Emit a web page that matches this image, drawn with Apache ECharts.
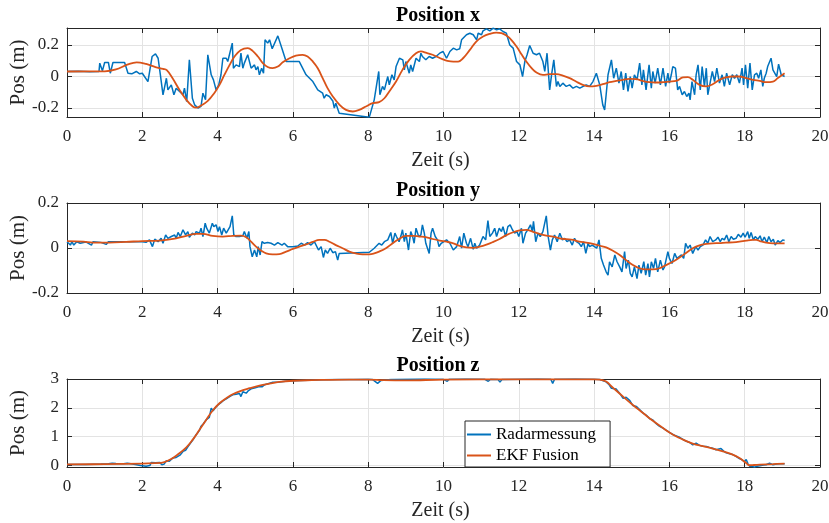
<!DOCTYPE html>
<html>
<head>
<meta charset="utf-8">
<script src="https://cdn.jsdelivr.net/npm/echarts@6/dist/echarts.min.js"></script>
<style>html,body{margin:0;padding:0;background:#fff}#c{width:829px;height:523px}</style>
</head>
<body>
<div id="c"></div>
<script>
// ---- data: [time (s), position (m)] ----
const radarX = [[0,0.032],[0.3,0.033],[0.6,0.031],[0.85,0.032],[0.87,0.085],[0.94,0.036],[1.0,0.089],[1.1,0.089],[1.15,0.021],[1.22,0.089],[1.53,0.089],[1.62,0.021],[1.72,0.017],[1.84,0.032],[1.93,0.017],[2.0,0.021],[2.15,-0.032],[2.26,0.127],[2.35,0.144],[2.42,0.116],[2.48,0.011],[2.55,-0.116],[2.64,-0.011],[2.68,-0.085],[2.77,-0.053],[2.84,-0.116],[2.90,-0.074],[2.99,-0.095],[3.08,-0.116],[3.12,-0.074],[3.18,-0.159],[3.25,0.106],[3.33,-0.138],[3.39,-0.18],[3.48,-0.2],[3.56,-0.19],[3.61,-0.106],[3.68,-0.148],[3.74,0.138],[3.83,0.011],[3.89,-0.021],[3.96,-0.085],[4.03,-0.053],[4.09,0.011],[4.14,0.116],[4.23,0.116],[4.27,0.095],[4.39,0.212],[4.42,0.053],[4.49,0.074],[4.58,0.063],[4.62,0.148],[4.67,0.053],[4.71,0.085],[4.80,0.138],[4.89,0.053],[4.98,0.074],[5.02,0.042],[5.07,0.063],[5.11,0.011],[5.17,0.053],[5.22,0.021],[5.26,0.233],[5.33,0.212],[5.38,0.233],[5.45,0.176],[5.6,0.258],[5.72,0.17],[5.82,0.095],[6.17,0.095],[6.35,0.011],[6.53,-0.032],[6.66,-0.085],[6.79,-0.106],[6.83,-0.138],[6.88,-0.116],[6.97,-0.127],[7.06,-0.155],[7.10,-0.2],[7.14,-0.169],[7.23,-0.233],[8.03,-0.258],[8.16,-0.148],[8.28,0.032],[8.31,-0.116],[8.38,-0.063],[8.43,-0.085],[8.52,0.0],[8.56,-0.053],[8.63,0.011],[8.69,-0.021],[8.74,0.063],[8.83,0.116],[8.92,0.106],[8.96,0.042],[9.00,0.095],[9.09,0.021],[9.13,0.074],[9.18,0.032],[9.27,0.116],[9.36,0.095],[9.40,0.148],[9.44,0.127],[9.53,0.106],[9.62,0.127],[9.71,0.116],[9.80,0.127],[9.90,0.148],[9.99,0.159],[10.08,0.116],[10.17,0.159],[10.26,0.18],[10.35,0.169],[10.43,0.176],[10.48,0.233],[10.52,0.243],[10.61,0.265],[10.70,0.275],[10.79,0.265],[10.88,0.233],[10.92,0.275],[11.01,0.265],[11.05,0.29],[11.14,0.303],[11.23,0.29],[11.32,0.307],[11.41,0.296],[11.49,0.303],[11.58,0.286],[11.67,0.275],[11.76,0.2],[11.85,0.18],[11.94,0.095],[12.03,0.074],[12.10,0.0],[12.16,0.095],[12.22,0.138],[12.29,0.197],[12.38,0.148],[12.47,0.138],[12.55,0.148],[12.64,0.095],[12.69,0.032],[12.75,0.148],[12.82,-0.085],[12.87,0.011],[12.93,0.106],[13.0,-0.063],[13.04,-0.032],[13.09,-0.063],[13.17,-0.042],[13.26,-0.063],[13.35,-0.053],[13.44,-0.074],[13.53,-0.063],[13.62,-0.074],[13.71,-0.063],[13.79,-0.053],[13.88,-0.063],[13.97,-0.032],[14.06,0.021],[14.10,0.011],[14.15,-0.053],[14.19,-0.116],[14.23,-0.18],[14.28,-0.212],[14.32,-0.116],[14.37,0.011],[14.46,0.106],[14.52,-0.011],[14.59,0.053],[14.66,-0.042],[14.72,0.032],[14.78,-0.085],[14.84,0.021],[14.90,-0.095],[14.96,0.0],[15.01,-0.074],[15.07,0.011],[15.14,-0.021],[15.21,0.085],[15.27,-0.053],[15.31,0.042],[15.38,-0.085],[15.46,0.074],[15.52,-0.074],[15.56,0.032],[15.62,-0.042],[15.69,0.053],[15.76,-0.053],[15.83,0.053],[15.90,-0.063],[15.96,0.021],[16.0,-0.042],[16.05,0.011],[16.09,0.063],[16.16,0.053],[16.22,-0.085],[16.27,-0.063],[16.34,-0.116],[16.40,-0.095],[16.46,-0.127],[16.52,-0.106],[16.55,-0.148],[16.60,-0.032],[16.67,-0.116],[16.71,0.011],[16.76,0.074],[16.82,-0.085],[16.87,0.063],[16.93,-0.063],[16.98,0.053],[17.02,-0.116],[17.08,-0.042],[17.14,0.032],[17.20,-0.032],[17.26,0.053],[17.33,-0.042],[17.40,0.011],[17.46,-0.063],[17.52,0.021],[17.60,-0.053],[17.67,0.011],[17.73,-0.011],[17.79,0.011],[17.86,-0.042],[17.93,0.053],[17.97,-0.053],[18.02,0.074],[18.08,-0.074],[18.14,0.085],[18.20,-0.085],[18.26,0.011],[18.32,0.021],[18.37,-0.011],[18.43,0.042],[18.48,-0.063],[18.52,-0.011],[18.57,0.021],[18.61,0.063],[18.66,0.053],[18.70,0.116],[18.75,0.042],[18.79,0.053],[18.85,0.0],[18.90,0.078],[18.97,0.011],[19.01,0.021],[19.06,0.0]];
const ekfX = [[0,0.032],[1.0,0.033],[1.3,0.045],[1.6,0.075],[1.85,0.09],[2.1,0.08],[2.35,0.06],[2.55,0.048],[2.65,0.04],[2.8,-0.01],[2.99,-0.085],[3.17,-0.148],[3.34,-0.19],[3.43,-0.197],[3.56,-0.184],[3.74,-0.155],[3.91,-0.106],[4.05,-0.053],[4.18,0.01],[4.32,0.074],[4.45,0.127],[4.62,0.169],[4.8,0.18],[4.93,0.163],[5.07,0.127],[5.2,0.085],[5.33,0.06],[5.46,0.053],[5.6,0.063],[5.73,0.09],[5.91,0.116],[6.08,0.133],[6.26,0.138],[6.39,0.127],[6.53,0.095],[6.66,0.053],[6.79,-0.01],[6.92,-0.074],[7.06,-0.127],[7.24,-0.18],[7.41,-0.212],[7.59,-0.222],[7.76,-0.212],[7.94,-0.19],[8.12,-0.169],[8.29,-0.163],[8.43,-0.138],[8.56,-0.095],[8.74,-0.032],[8.91,0.042],[9.09,0.106],[9.27,0.148],[9.4,0.159],[9.55,0.15],[9.71,0.138],[9.97,0.11],[10.1,0.1],[10.26,0.095],[10.39,0.095],[10.52,0.116],[10.7,0.169],[10.87,0.222],[11.05,0.254],[11.23,0.271],[11.4,0.279],[11.54,0.275],[11.67,0.26],[11.8,0.233],[11.94,0.19],[12.07,0.142],[12.2,0.095],[12.34,0.053],[12.47,0.025],[12.64,0.01],[12.82,0.015],[13.0,0.015],[13.17,0.006],[13.35,-0.01],[13.52,-0.032],[13.7,-0.053],[13.88,-0.063],[14.06,-0.059],[14.23,-0.049],[14.41,-0.036],[14.59,-0.028],[14.76,-0.021],[14.94,-0.015],[15.12,-0.017],[15.29,-0.028],[15.47,-0.036],[15.65,-0.038],[15.83,-0.036],[16.0,-0.032],[16.18,-0.028],[16.36,-0.006],[16.49,-0.004],[16.62,-0.021],[16.8,-0.053],[16.97,-0.063],[17.15,-0.049],[17.33,-0.021],[17.5,-0.006],[17.68,0.0],[17.86,0.0],[18.04,-0.01],[18.22,-0.021],[18.4,-0.028],[18.57,-0.036],[18.75,-0.032],[18.88,-0.01],[19.06,0.021]];

const radarY = [[0,0.028],[0.09,0.013],[0.13,0.028],[0.18,0.013],[0.26,0.028],[0.35,0.021],[0.5,0.027],[0.65,0.013],[0.69,0.028],[0.9,0.025],[1.04,0.016],[1.1,0.028],[1.5,0.028],[2.0,0.028],[2.1,0.025],[2.19,0.036],[2.27,0.006],[2.33,0.039],[2.42,0.028],[2.5,0.043],[2.55,0.021],[2.62,0.058],[2.68,0.043],[2.77,0.051],[2.86,0.058],[2.90,0.043],[2.95,0.069],[3.01,0.051],[3.08,0.081],[3.15,0.058],[3.21,0.073],[3.25,0.048],[3.33,0.066],[3.39,0.058],[3.43,0.073],[3.52,0.066],[3.56,0.088],[3.61,0.051],[3.67,0.11],[3.71,0.088],[3.78,0.066],[3.86,0.11],[3.90,0.095],[3.96,0.103],[4.01,0.073],[4.05,0.095],[4.11,0.058],[4.16,0.088],[4.23,0.066],[4.27,0.066],[4.33,0.095],[4.39,0.143],[4.43,0.058],[4.49,0.051],[4.58,0.051],[4.67,0.054],[4.71,0.073],[4.78,0.043],[4.83,0.073],[4.86,0.006],[4.92,-0.039],[4.98,-0.009],[5.04,-0.039],[5.08,0.006],[5.13,-0.031],[5.18,0.028],[5.24,0.021],[5.33,0.024],[5.42,0.021],[5.51,0.013],[5.6,0.024],[5.64,0.028],[5.71,0.013],[5.77,0.021],[5.86,0.006],[6.0,0.006],[6.13,0.009],[6.22,0.021],[6.31,0.013],[6.39,0.024],[6.48,0.013],[6.57,0.028],[6.61,0.021],[6.68,-0.009],[6.75,0.006],[6.81,-0.042],[6.86,-0.009],[6.92,-0.024],[6.99,-0.001],[7.06,-0.021],[7.13,-0.016],[7.19,-0.054],[7.23,-0.024],[8.03,-0.019],[8.16,-0.001],[8.29,0.021],[8.36,0.013],[8.43,0.028],[8.52,0.036],[8.6,0.069],[8.65,0.021],[8.71,0.066],[8.75,0.051],[8.82,0.028],[8.87,0.054],[8.91,0.081],[8.96,0.028],[9.0,0.066],[9.07,-0.009],[9.13,0.073],[9.18,0.051],[9.22,0.021],[9.27,0.088],[9.34,0.051],[9.40,0.058],[9.44,0.103],[9.49,0.066],[9.53,0.021],[9.62,-0.024],[9.67,0.066],[9.71,0.088],[9.78,0.051],[9.84,0.036],[9.88,0.006],[9.94,0.021],[9.99,0.021],[10.08,0.036],[10.17,0.021],[10.26,-0.009],[10.35,0.006],[10.43,0.051],[10.48,-0.001],[10.54,0.066],[10.61,0.021],[10.65,0.006],[10.72,0.043],[10.79,-0.006],[10.83,0.021],[10.88,-0.001],[10.96,0.013],[11.05,0.051],[11.12,0.036],[11.18,0.122],[11.23,0.051],[11.30,0.066],[11.36,0.088],[11.41,0.051],[11.48,0.088],[11.54,0.073],[11.58,0.095],[11.65,0.051],[11.71,0.095],[11.77,0.103],[11.83,0.081],[11.89,0.066],[11.95,0.073],[12.0,0.051],[12.07,0.088],[12.11,0.021],[12.18,0.066],[12.24,0.081],[12.31,0.103],[12.36,0.073],[12.39,0.118],[12.45,0.028],[12.51,0.066],[12.57,0.051],[12.64,0.073],[12.73,0.143],[12.78,0.051],[12.84,-0.009],[12.89,0.036],[12.95,0.058],[13.02,0.028],[13.09,0.066],[13.16,0.036],[13.22,0.043],[13.28,0.028],[13.35,0.036],[13.42,0.013],[13.48,0.043],[13.53,0.028],[13.60,0.021],[13.66,0.006],[13.72,0.028],[13.78,-0.024],[13.84,0.021],[13.88,0.006],[13.95,0.013],[14.01,0.006],[14.07,-0.001],[14.13,0.036],[14.19,-0.046],[14.25,-0.076],[14.32,-0.106],[14.37,-0.121],[14.41,-0.061],[14.48,-0.084],[14.55,-0.031],[14.61,-0.061],[14.68,-0.084],[14.74,-0.106],[14.81,-0.016],[14.85,-0.091],[14.91,-0.054],[14.96,-0.113],[15.01,-0.128],[15.07,-0.084],[15.14,-0.136],[15.19,-0.076],[15.25,-0.113],[15.32,-0.061],[15.37,-0.121],[15.43,-0.069],[15.47,-0.128],[15.52,-0.061],[15.58,-0.091],[15.63,-0.046],[15.69,-0.106],[15.76,-0.054],[15.83,-0.098],[15.87,-0.084],[15.92,-0.091],[15.96,-0.016],[16.0,-0.046],[16.07,-0.069],[16.14,-0.024],[16.20,-0.046],[16.25,-0.054],[16.32,-0.031],[16.38,-0.046],[16.43,0.021],[16.49,-0.001],[16.55,0.013],[16.62,-0.024],[16.70,0.006],[16.76,-0.009],[16.82,0.006],[16.89,0.013],[16.96,0.036],[17.02,0.021],[17.08,0.051],[17.15,0.028],[17.23,0.036],[17.29,0.048],[17.35,0.028],[17.40,0.043],[17.46,0.036],[17.52,0.058],[17.58,0.028],[17.64,0.051],[17.70,0.039],[17.77,0.043],[17.83,0.061],[17.90,0.048],[17.96,0.066],[18.01,0.048],[18.08,0.073],[18.12,0.043],[18.17,0.069],[18.23,0.036],[18.28,0.051],[18.35,0.039],[18.41,0.054],[18.46,0.028],[18.52,0.048],[18.59,0.024],[18.64,0.051],[18.70,0.028],[18.76,0.039],[18.81,0.013],[18.88,0.033],[18.94,0.024],[19.01,0.036],[19.06,0.033]];
const ekfY = [[0,0.031],[0.44,0.028],[0.69,0.024],[1.13,0.024],[1.57,0.027],[2.0,0.031],[2.46,0.033],[2.9,0.043],[3.17,0.054],[3.43,0.063],[3.61,0.063],[3.87,0.054],[4.14,0.051],[4.4,0.054],[4.62,0.055],[4.76,0.048],[4.89,0.028],[5.02,0.006],[5.16,-0.012],[5.29,-0.024],[5.46,-0.028],[5.64,-0.027],[5.82,-0.016],[6.0,-0.004],[6.17,0.006],[6.35,0.016],[6.53,0.027],[6.7,0.036],[6.84,0.036],[6.97,0.028],[7.14,0.013],[7.32,-0.001],[7.5,-0.016],[7.67,-0.024],[7.85,-0.028],[8.03,-0.028],[8.16,-0.024],[8.29,-0.016],[8.47,-0.001],[8.65,0.021],[8.82,0.04],[9.0,0.054],[9.18,0.054],[9.36,0.051],[9.53,0.048],[9.71,0.04],[9.9,0.033],[10.08,0.028],[10.26,0.021],[10.43,0.009],[10.61,0.003],[10.79,0.001],[10.96,0.006],[11.14,0.015],[11.32,0.027],[11.49,0.04],[11.67,0.057],[11.85,0.07],[12.02,0.078],[12.2,0.081],[12.38,0.072],[12.55,0.063],[12.73,0.055],[12.91,0.051],[13.08,0.043],[13.26,0.039],[13.44,0.036],[13.61,0.028],[13.79,0.024],[13.97,0.018],[14.15,0.01],[14.32,0.003],[14.5,-0.012],[14.68,-0.031],[14.85,-0.054],[15.03,-0.076],[15.2,-0.09],[15.38,-0.095],[15.56,-0.095],[15.74,-0.09],[15.91,-0.076],[16.09,-0.061],[16.27,-0.042],[16.45,-0.021],[16.62,-0.001],[16.8,0.012],[16.98,0.018],[17.15,0.021],[17.33,0.022],[17.5,0.024],[17.68,0.025],[17.86,0.028],[18.04,0.033],[18.22,0.036],[18.31,0.036],[18.4,0.031],[18.57,0.024],[18.75,0.021],[19.06,0.021]];

const radarZ = [[0,0.04],[0.5,0.04],[0.9,0.05],[0.95,0.07],[1.1,0.06],[1.2,0.08],[1.3,0.07],[1.5,0.06],[1.6,0.08],[1.7,0.06],[1.85,0.03],[1.95,0.0],[2.1,-0.02],[2.2,0.0],[2.24,0.11],[2.35,0.1],[2.46,0.11],[2.52,0.03],[2.58,0.05],[2.64,0.17],[2.72,0.15],[2.81,0.26],[2.9,0.28],[2.95,0.34],[3.0,0.36],[3.08,0.49],[3.15,0.53],[3.21,0.65],[3.25,0.68],[3.34,0.88],[3.43,1.07],[3.52,1.22],[3.56,1.36],[3.62,1.44],[3.66,1.52],[3.7,1.59],[3.78,1.67],[3.83,1.99],[3.88,1.9],[3.95,2.02],[4.01,2.1],[4.08,2.17],[4.14,2.24],[4.25,2.33],[4.32,2.39],[4.4,2.45],[4.49,2.47],[4.58,2.5],[4.62,2.39],[4.67,2.56],[4.72,2.5],[4.76,2.51],[4.82,2.6],[4.89,2.66],[5.0,2.7],[5.11,2.74],[5.18,2.73],[5.25,2.8],[5.38,2.85],[5.47,2.89],[5.64,2.9],[5.8,2.92],[6.0,2.94],[6.4,2.96],[6.8,2.97],[7.2,2.98],[7.6,2.98],[8.0,2.99],[8.12,2.98],[8.25,2.85],[8.29,2.79],[8.34,2.95],[8.6,2.98],[9.0,2.99],[9.5,3.0],[10.0,2.99],[10.1,2.92],[10.15,2.99],[10.6,3.0],[11.1,2.99],[11.19,2.92],[11.25,2.99],[11.45,2.98],[11.5,2.89],[11.55,2.98],[12.0,2.99],[12.5,3.0],[12.85,2.99],[12.9,2.85],[12.95,2.99],[13.5,3.0],[14.0,2.99],[14.15,2.98],[14.32,2.9],[14.4,2.8],[14.46,2.68],[14.5,2.62],[14.59,2.65],[14.68,2.5],[14.77,2.33],[14.85,2.37],[14.95,2.25],[15.03,2.08],[15.12,2.05],[15.2,1.95],[15.3,1.82],[15.4,1.73],[15.48,1.62],[15.56,1.58],[15.65,1.45],[15.74,1.36],[15.83,1.3],[15.92,1.22],[16.0,1.15],[16.1,1.07],[16.18,1.03],[16.27,0.98],[16.36,0.91],[16.45,0.84],[16.54,0.8],[16.62,0.72],[16.71,0.78],[16.8,0.7],[16.89,0.67],[16.98,0.66],[17.06,0.63],[17.15,0.6],[17.24,0.55],[17.37,0.59],[17.44,0.5],[17.51,0.44],[17.6,0.41],[17.68,0.38],[17.77,0.32],[17.86,0.24],[17.93,0.2],[17.99,0.13],[18.04,0.21],[18.09,0.05],[18.13,-0.02],[18.2,-0.03],[18.26,-0.06],[18.33,-0.02],[18.4,-0.01],[18.5,0.02],[18.57,0.03],[18.66,0.08],[18.75,0.03],[18.85,0.05],[18.93,0.06],[19.06,0.06]];
const ekfZ = [[0,0.04],[1.0,0.05],[2.0,0.07],[2.5,0.09],[2.73,0.2],[2.94,0.38],[3.17,0.63],[3.34,0.9],[3.52,1.24],[3.7,1.59],[3.87,1.91],[4.05,2.16],[4.23,2.33],[4.4,2.47],[4.62,2.59],[4.85,2.68],[5.11,2.77],[5.38,2.84],[5.64,2.9],[6.0,2.94],[6.5,2.96],[7.0,2.97],[8.0,2.98],[8.4,2.96],[9.0,2.95],[10.0,2.98],[12.0,2.99],[14.0,2.99],[14.15,2.98],[14.32,2.91],[14.5,2.7],[14.77,2.39],[15.03,2.1],[15.3,1.82],[15.56,1.55],[15.83,1.3],[16.1,1.07],[16.36,0.9],[16.62,0.76],[16.89,0.67],[17.15,0.59],[17.42,0.49],[17.68,0.38],[17.86,0.26],[18.04,0.09],[18.13,0.01],[18.25,0.02],[18.4,0.03],[18.75,0.05],[19.06,0.07]];

const titles = ['Position x', 'Position y', 'Position z'];
const xTicks = [0, 2, 4, 6, 8, 10, 12, 14, 16, 18, 20];
const yTicksX = [-0.2, 0, 0.2];
const yTicksY = [-0.2, 0, 0.2];
const yTicksZ = [0, 1, 2, 3];
const yRanges = [[-0.257, 0.308], [-0.2, 0.2], [-0.05, 3]];
const seriesNames = ['Radarmessung', 'EKF Fusion'];

// ---- styling / layout ----
const FONT = 'Liberation Serif';
const AX = '#262626';
const GRIDC = '#e3e3e3';
const BLUE = '#0072BD';
const ORANGE = '#D95319';
const grids = [{top: 28, height: 89}, {top: 203, height: 90}, {top: 379, height: 88}];
const titleTops = [6, 181, 356];

const chart = echarts.init(document.getElementById('c'), null, {renderer: 'canvas'});
const xAxes = [], yAxes = [], series = [];
const yTickSets = [yTicksX, yTicksY, yTicksZ];
const dataSets = [[radarX, ekfX], [radarY, ekfY], [radarZ, ekfZ]];

grids.forEach((g, i) => {
  const common = {gridIndex: i, type: 'value', min: 0, max: 20, interval: 2};
  xAxes.push(Object.assign({}, common, {
    position: 'bottom',
    axisLine: {show: true, onZero: false, lineStyle: {color: AX, width: 1}},
    axisTick: {show: true, inside: true, length: 5, lineStyle: {color: AX}},
    axisLabel: {show: true, margin: 11, fontFamily: FONT, fontSize: 17, color: AX,
                formatter: v => xTicks.indexOf(v) >= 0 ? String(v) : ''},
    splitLine: {show: true, lineStyle: {color: GRIDC, width: 1}},
    name: 'Zeit (s)', nameLocation: 'middle', nameGap: 34, nameMoveOverlap: false,
    nameTextStyle: {fontFamily: FONT, fontSize: 20, color: AX, padding: [0, 6, 0, 0]}
  }));
  xAxes.push(Object.assign({}, common, {
    position: 'top',
    axisLine: {show: true, onZero: false, lineStyle: {color: AX, width: 1}},
    axisTick: {show: true, inside: true, length: 5, lineStyle: {color: AX}},
    axisLabel: {show: false}, splitLine: {show: false}
  }));
  const yc = {gridIndex: i, type: 'value', min: yRanges[i][0], max: yRanges[i][1]};
  yAxes.push(Object.assign({}, yc, {
    position: 'left',
    axisLine: {show: true, onZero: false, lineStyle: {color: AX, width: 1}},
    axisTick: {show: true, inside: true, length: 5, lineStyle: {color: AX}, customValues: yTickSets[i]},
    axisLabel: {show: true, margin: 8, fontFamily: FONT, fontSize: 17, color: AX, customValues: yTickSets[i],
                formatter: v => String(v)},
    splitLine: {show: true, lineStyle: {color: GRIDC, width: 1}},
    name: 'Pos (m)', nameLocation: 'middle', nameGap: 38, nameMoveOverlap: false,
    nameTextStyle: {fontFamily: FONT, fontSize: 21, color: AX}
  }));
  yAxes.push(Object.assign({}, yc, {
    position: 'right',
    axisLine: {show: true, onZero: false, lineStyle: {color: AX, width: 1}},
    axisTick: {show: true, inside: true, length: 5, lineStyle: {color: AX}, customValues: yTickSets[i]},
    axisLabel: {show: false}, splitLine: {show: false}
  }));
  series.push({
    name: seriesNames[0], type: 'line', xAxisIndex: 2 * i, yAxisIndex: 2 * i,
    data: dataSets[i][0], symbol: 'none', showSymbol: false,
    lineStyle: {color: BLUE, width: 1.5}, itemStyle: {color: BLUE}, z: 3
  });
  series.push({
    name: seriesNames[1], type: 'line', xAxisIndex: 2 * i, yAxisIndex: 2 * i,
    data: dataSets[i][1], symbol: 'none', showSymbol: false, smooth: 0.4,
    lineStyle: {color: ORANGE, width: 1.8}, itemStyle: {color: ORANGE}, z: 4
  });
});

chart.setOption({
  animation: false,
  backgroundColor: '#fff',
  title: titles.map((t, i) => ({
    text: t, left: 438, top: titleTops[i], textAlign: 'center', padding: 0,
    textStyle: {fontFamily: FONT, fontWeight: 'bold', fontSize: 20, color: '#000'}
  })),
  grid: grids.map(g => ({left: 67, width: 753, top: g.top, height: g.height,
                         containLabel: false, outerBoundsMode: 'none'})),
  xAxis: xAxes,
  yAxis: yAxes,
  legend: {
    data: seriesNames.map(n => ({name: n, icon: 'rect'})),
    orient: 'vertical', left: 465, top: 421,
    itemWidth: 24, itemHeight: 2, itemGap: 4,
    padding: [5, 14, 3, 2],
    backgroundColor: '#fff', borderColor: AX, borderWidth: 1, borderRadius: 0,
    textStyle: {fontFamily: FONT, fontSize: 17, color: '#000', lineHeight: 17},
    selectedMode: false
  },
  series: series
});
</script>
</body>
</html>
